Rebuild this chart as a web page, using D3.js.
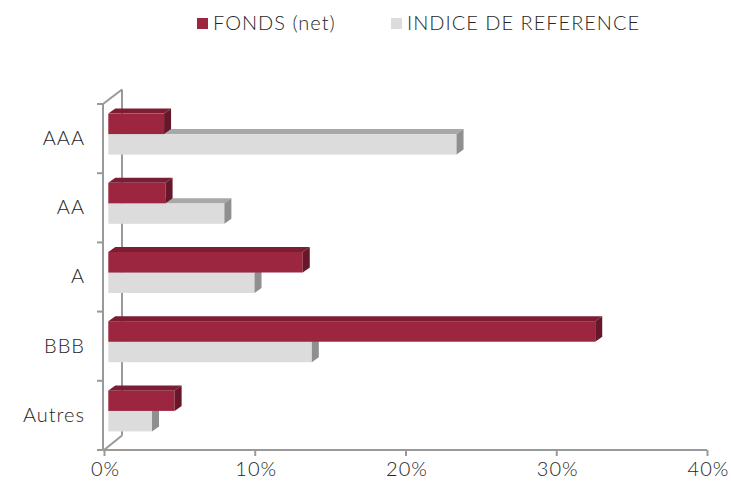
<!DOCTYPE html>
<html>
<head>
<meta charset="utf-8">
<script src="https://cdn.jsdelivr.net/npm/d3@7"></script>
<style>
  body { margin: 0; background: #fff; }
  text { font-family: "Lato", sans-serif; font-weight: 300; fill: #262626; letter-spacing: 1px; }
</style>
</head>
<body>
<div id="chart"></div>
<script>
// data
var categories = ["AAA", "AA", "A", "BBB", "Autres"];
var fonds = [3.7, 3.8, 12.9, 32.3, 4.4];
var indice = [23.1, 7.7, 9.7, 13.5, 2.9];
var xTicks = [0, 10, 20, 30, 40];
var seriesNames = ["FONDS (net)", "INDICE DE REFERENCE"];

var width = 731, height = 482;

var svg = d3.select("#chart")
  .append("svg")
  .attr("width", width)
  .attr("height", height);

// scales (front plane of the 3D box)
var x = d3.scaleLinear().domain([0, 40]).range([104, 707]);
var y = d3.scaleBand().domain(categories).range([104, 450]);
var inner = d3.scaleBand().domain(["fonds", "indice"]).range([0, 41]);

// 3D offsets
var wallDx = 18, wallDy = -14.5;   // depth of the box
var barOx = 4.3, barOy = -4.5;     // bars sit a bit behind the front plane
var barDx = 7, barDy = -5;         // depth of each bar

var lineCol = "#999";

// walls / box edges
var walls = svg.append("g")
  .attr("fill", "none")
  .attr("stroke", lineCol)
  .attr("stroke-width", 2);
var top0 = y.range()[0], bot0 = y.range()[1];
walls.append("line") // back vertical edge
  .attr("x1", x(0) + wallDx).attr("x2", x(0) + wallDx)
  .attr("y1", top0 + wallDy).attr("y2", bot0 + wallDy);
walls.append("line") // top diagonal
  .attr("x1", x(0) - 1).attr("y1", top0)
  .attr("x2", x(0) + wallDx).attr("y2", top0 + wallDy);
walls.append("line") // bottom diagonal
  .attr("x1", x(0)).attr("y1", bot0)
  .attr("x2", x(0) + wallDx).attr("y2", bot0 + wallDy);

// bars
var colors = {
  fonds:  {front: "#9c2640", top: "#7c1d33", side: "#66172a"},
  indice: {front: "#dcdcdc", top: "#a8a8a8", side: "#8f8f8f"}
};

var rows = [];
categories.forEach(function(c, i) {
  rows.push({cat: c, key: "indice", value: indice[i]});
  rows.push({cat: c, key: "fonds", value: fonds[i]});
});

var barH = inner.bandwidth();
var bars = svg.append("g").selectAll("g")
  .data(rows)
  .enter()
  .append("g");

function geom(d) {
  var x0 = x(0) + barOx, x1 = x(d.value) + barOx;
  var yt = y(d.cat) + (y.bandwidth() - inner.range()[1]) / 2 + inner(d.key) + barOy;
  var yb = yt + barH;
  return {x0: x0, x1: x1, yt: yt, yb: yb};
}

bars.append("rect")
  .attr("x", function(d) { return geom(d).x0; })
  .attr("y", function(d) { return geom(d).yt; })
  .attr("width", function(d) { var g = geom(d); return g.x1 - g.x0; })
  .attr("height", barH)
  .attr("fill", function(d) { return colors[d.key].front; });

bars.append("polygon")
  .attr("points", function(d) {
    var g = geom(d);
    return [[g.x0, g.yt], [g.x1, g.yt], [g.x1 + barDx, g.yt + barDy], [g.x0 + barDx, g.yt + barDy]].join(" ");
  })
  .attr("fill", function(d) { return colors[d.key].top; });

bars.append("polygon")
  .attr("points", function(d) {
    var g = geom(d);
    return [[g.x1, g.yt], [g.x1 + barDx, g.yt + barDy], [g.x1 + barDx, g.yb + barDy], [g.x1, g.yb]].join(" ");
  })
  .attr("fill", function(d) { return colors[d.key].side; });

// front axes
var front = svg.append("g")
  .attr("stroke", lineCol)
  .attr("stroke-width", 2)
  .attr("fill", "none");
front.append("line")
  .attr("x1", x(0) - 1).attr("x2", x(0) - 1)
  .attr("y1", top0).attr("y2", bot0);
front.append("line")
  .attr("x1", x(0) - 1).attr("x2", x(40))
  .attr("y1", bot0).attr("y2", bot0);

// left ticks at band boundaries
var yBounds = categories.map(function(c) { return y(c); }).concat([bot0]);
front.selectAll(".ytick")
  .data(yBounds)
  .enter()
  .append("line")
  .attr("x1", x(0) - 7).attr("x2", x(0) - 1)
  .attr("y1", function(d) { return d; })
  .attr("y2", function(d) { return d; });

// x axis ticks + labels
var xAxis = svg.append("g")
  .attr("transform", "translate(0," + bot0 + ")")
  .call(d3.axisBottom(x).tickValues(xTicks).tickSize(6).tickPadding(6)
    .tickFormat(function(d) { return d + "%"; }));
xAxis.select(".domain").remove();
xAxis.selectAll(".tick line").attr("stroke", lineCol).attr("stroke-width", 2);
xAxis.selectAll(".tick text")
  .style("font-family", "Lato, sans-serif")
  .style("font-weight", 300)
  .style("font-size", "20px")
  .attr("dx", "0.05em")
  .attr("fill", "#262626");

// y labels at band centres
var yAxis = svg.append("g")
  .attr("transform", "translate(" + (x(0) - 1) + ",0)")
  .call(d3.axisLeft(y).tickSize(0).tickPadding(18));
yAxis.select(".domain").remove();
yAxis.selectAll(".tick text")
  .style("font-family", "Lato, sans-serif")
  .style("font-weight", 300)
  .style("font-size", "20px")
  .attr("fill", "#262626");

// legend
var legend = svg.append("g");
var legendItems = [
  {name: seriesNames[0], color: colors.fonds.front, x: 197},
  {name: seriesNames[1], color: colors.indice.front, x: 391}
];
legend.selectAll("rect")
  .data(legendItems)
  .enter()
  .append("rect")
  .attr("x", function(d) { return d.x; })
  .attr("y", 18)
  .attr("width", 11)
  .attr("height", 11)
  .attr("fill", function(d) { return d.color; });
legend.selectAll("text")
  .data(legendItems)
  .enter()
  .append("text")
  .attr("x", function(d) { return d.x + 16; })
  .attr("y", 30)
  .style("font-size", "20px")
  .text(function(d) { return d.name; });
</script>
</body>
</html>
